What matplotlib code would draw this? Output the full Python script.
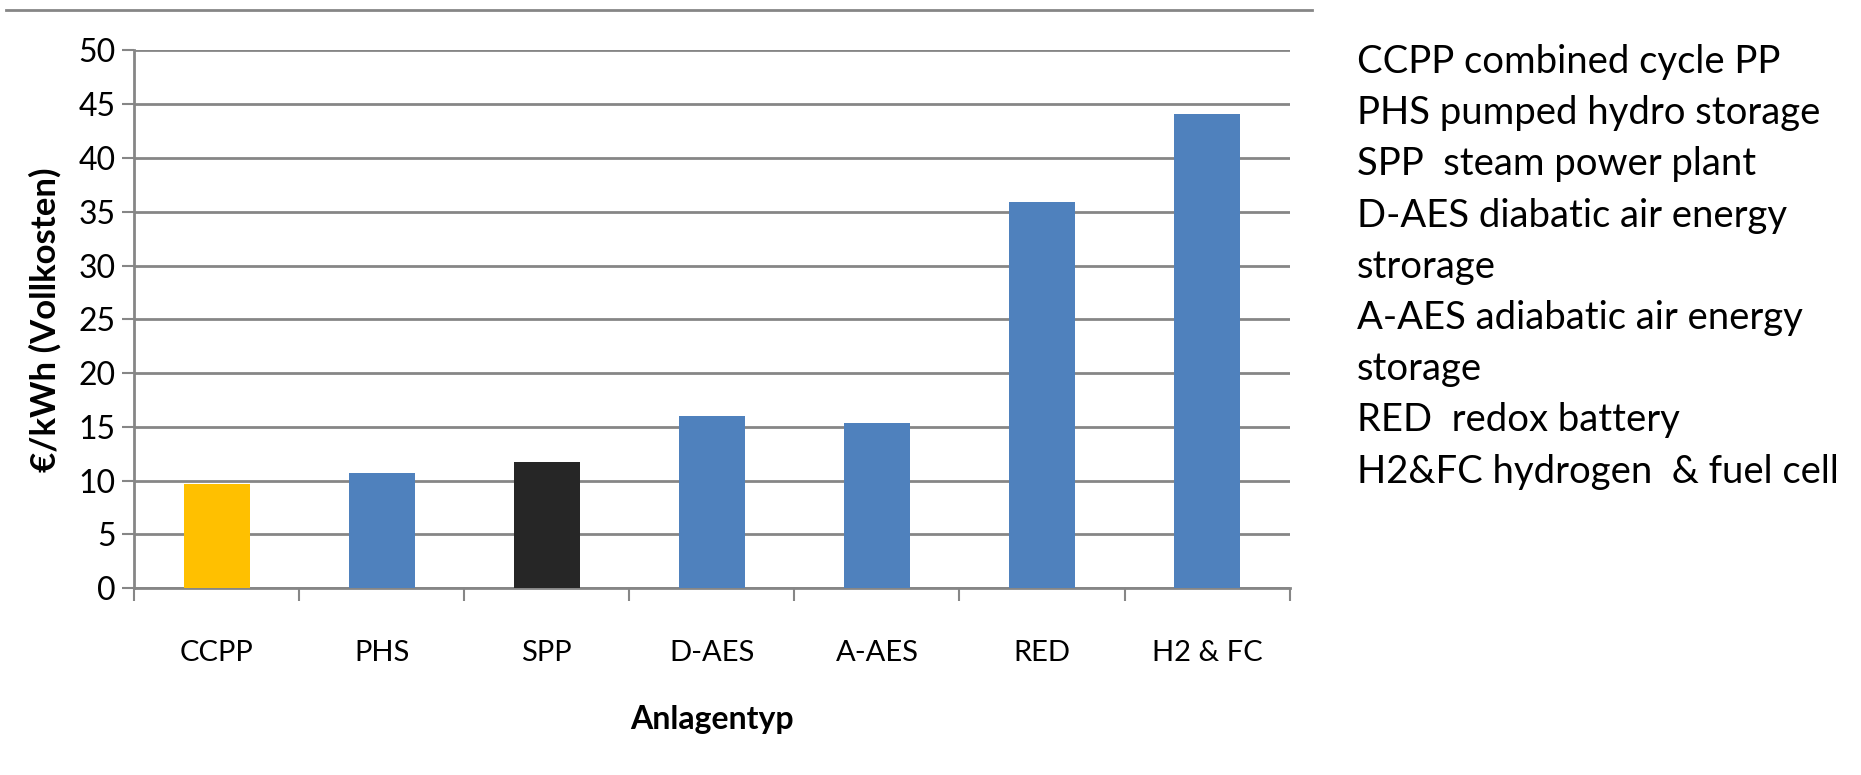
import matplotlib.pyplot as plt
from matplotlib.lines import Line2D

plt.rcParams['font.family'] = ['Lato', 'DejaVu Sans']

anlagen = ['CCPP', 'PHS', 'SPP', 'D-AES', 'A-AES', 'RED', 'H2 & FC']
kosten = [9.7, 10.7, 11.7, 16.0, 15.4, 35.9, 44.1]
farben = ['#FFC000', '#4F81BD', '#262626', '#4F81BD', '#4F81BD', '#4F81BD', '#4F81BD']
legende = [
    'CCPP combined cycle PP',
    'PHS pumped hydro storage',
    'SPP  steam power plant',
    'D-AES diabatic air energy',
    'strorage',
    'A-AES adiabatic air energy',
    'storage',
    'RED  redox battery',
    'H2&FC hydrogen  & fuel cell',
]

grau = '#868686'

fig = plt.figure(figsize=(18.61, 7.75), dpi=100)
ax = fig.add_axes([0.072, 0.241, 0.621, 0.694])

x = range(len(anlagen))
ax.bar(x, kosten, width=0.4, color=farben, zorder=3)

ax.set_xlim(-0.5, len(anlagen) - 0.5)
ax.set_ylim(0, 50)
ax.set_yticks(range(0, 51, 5))
ax.yaxis.grid(True, color=grau, linewidth=2, zorder=0)

for s in ['top', 'right']:
    ax.spines[s].set_visible(False)
for s in ['left', 'bottom']:
    ax.spines[s].set_color(grau)
    ax.spines[s].set_linewidth(2)

ax.set_xticks(list(x))
ax.set_xticklabels(anlagen)
ax.set_xticks([i - 0.5 for i in range(len(anlagen) + 1)], minor=True)
ax.tick_params(axis='x', which='major', length=0, pad=37, labelsize=21)
ax.tick_params(axis='x', which='minor', length=9, width=1.5, color=grau)
ax.tick_params(axis='y', length=9, width=1.5, color=grau, labelsize=23, pad=4)

ax.set_ylabel('€/kWh (Vollkosten)', fontsize=25, fontweight='bold', labelpad=12)
ax.set_xlabel('Anlagentyp', fontsize=23, fontweight='bold', labelpad=28)

# Rahmenlinie oben
fig.add_artist(Line2D([0.003, 0.705], [0.987, 0.987], transform=fig.transFigure,
                      color=grau, linewidth=2))

for i, zeile in enumerate(legende):
    fig.text(0.729, 1 - (62 + i * 51.2) / 775, zeile, fontsize=27.5, va='center', ha='left')

fig.savefig('out.png', dpi=100)
